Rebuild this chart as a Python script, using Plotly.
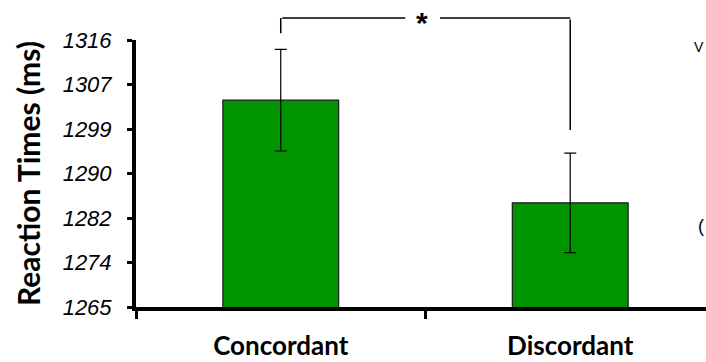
import plotly.graph_objects as go

categories = ["Concordant", "Discordant"]
cat_pos = [0, 1]
rt_means = [1304.5, 1284.9]
rt_errors = [9.7, 9.5]
y_range = [1265, 1316]
y_tickvals = [1265, 1273.5, 1282, 1290.5, 1299, 1307.5, 1316]
y_ticktext = ["1265", "1274", "1282", "1290", "1299", "1307", "1316"]
x_boundaries = [-0.5, 0.5, 1.5]
sig_label = "*"
bracket_y = 1320.2
bracket_left_bottom = 1317.0
bracket_right_bottom = 1298.8


def ydom(v):
    return (v - y_range[0]) / (y_range[1] - y_range[0])


fig = go.Figure()
fig.add_trace(go.Bar(
    x=cat_pos, y=rt_means, width=0.4,
    marker=dict(color="#009400", line=dict(color="#1a1a1a", width=1.2)),
    error_y=dict(type="data", array=rt_errors, color="black", thickness=1.2, width=6),
    showlegend=False,
))


def seg(x0, y0, x1, y1):
    fig.add_annotation(x=x1, y=ydom(y1), ax=x0, ay=ydom(y0),
                       xref="x", yref="y domain", axref="x", ayref="y domain",
                       text="", showarrow=True, arrowhead=0, arrowwidth=1.5,
                       arrowcolor="black", standoff=0, startstandoff=0)


seg(cat_pos[0], bracket_left_bottom, cat_pos[0], bracket_y)
seg(cat_pos[0], bracket_y, 0.43, bracket_y)
seg(0.545, bracket_y, cat_pos[1], bracket_y)
seg(cat_pos[1], bracket_y, cat_pos[1], bracket_right_bottom)
fig.add_annotation(x=0.487, y=ydom(bracket_y), xref="x", yref="y domain",
                   text="<b>" + sig_label + "</b>",
                   showarrow=False, font=dict(family="Arial", size=30, color="black"),
                   yanchor="middle", yshift=-4)

fig.add_annotation(x=1, y=1.01, xref="paper", yref="paper", xanchor="right",
                   text="V", showarrow=False, font=dict(family="Arial", size=14, color="black"))
fig.add_annotation(x=1, y=0.26, xref="paper", yref="paper", xanchor="right",
                   text="(", showarrow=False, font=dict(family="Arial", size=18, color="black"))

fig.update_xaxes(
    range=[-0.5, 1.469], showline=True, linewidth=4, linecolor="black",
    tickvals=cat_pos, ticktext=["<b>" + c + "</b>" for c in categories], ticks="",
    ticklabelstandoff=13, automargin=False,
    minor=dict(tickvals=x_boundaries, ticks="outside", ticklen=8, tickwidth=3, tickcolor="black"),
    tickfont=dict(family="Lato", size=26, color="black"),
    showgrid=False, zeroline=False,
)
fig.update_yaxes(
    range=y_range, tickvals=y_tickvals, ticktext=["<i>" + t + "</i>" for t in y_ticktext],
    showline=True, linewidth=4, linecolor="black", automargin=False,
    ticks="outside", ticklen=5, tickwidth=3, tickcolor="black", ticklabelstandoff=11,
    tickfont=dict(family="Arial", size=22, color="black", style="italic"),
    showgrid=False, zeroline=False,
    title=dict(text="<b>Reaction Times (ms)</b>", font=dict(family="Lato", size=30, color="black"), standoff=14),
)
fig.update_layout(
    width=706, height=362,
    margin=dict(l=136, r=0, t=40, b=55),
    plot_bgcolor="white", paper_bgcolor="white",
)
fig.write_html(
    "out.html",
    config={"displayModeBar": False},
    post_script="document.body.style.margin='0';document.body.style.overflow='hidden';"
                "document.documentElement.style.overflow='hidden';",
)
